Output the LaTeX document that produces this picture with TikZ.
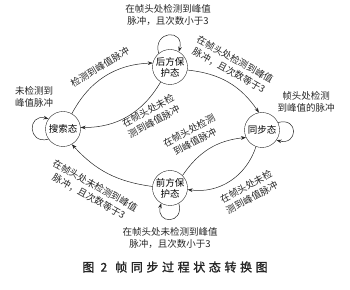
\documentclass[tikz,border=0pt]{standalone}
\usepackage{fontspec}
\usepackage{tikz}
\usetikzlibrary{arrows.meta}
\newfontfamily\cjk{Noto Sans CJK SC}
\newfontfamily\cjkcap[LetterSpace=30,FakeBold=1.2]{Noto Sans CJK SC}

\begin{document}
\begin{tikzpicture}[x=1pt,y=1pt,state/.style={draw=black!85,circle,minimum size=35pt,inner sep=0pt,align=center,font=\cjk\fontsize{9.5}{11}\selectfont},lbl/.style={align=center,inner sep=0pt,text=black!85,font=\cjk\fontsize{9.5}{12.5}\selectfont},arr/.style={-{Stealth[length=5pt,width=3.6pt]},line width=0.5pt,draw=black!85}]
\useasboundingbox (0,0) rectangle (350,289);
\node[state] (search) at (63,160) {搜索态};
\node[state] (back) at (170,222) {后方保\\护态};
\node[state] (sync) at (262,159) {同步态};
\node[state] (front) at (170,101) {前方保\\护态};
\node[lbl] (searchself) at (34,192) {未检测到\\峰值脉冲};
\node[lbl] (backself) at (168,274) {在帧头处检测到峰值\\脉冲，且次数小于3};
\node[lbl] (syncself) at (306,187) {帧头处检测\\到峰值的脉冲};
\node[lbl] (frontself) at (170,51) {在帧头处未检测到峰值\\脉冲，且次数小于3};
\node[lbl,rotate=31] (searchback) at (100,222) {检测到峰值脉冲};
\node[lbl,rotate=28] (backsearch) at (151,173) {在帧头处未检\\测到峰值脉冲};
\node[lbl,rotate=-29] (backsync) at (232,224) {在帧头处检测到峰值\\脉冲，且次数等于3};
\node[lbl,rotate=28] (syncfront) at (249,97) {在帧头处未检\\测到峰值脉冲};
\node[lbl,rotate=28] (frontsync) at (192,153) {在帧头处检测\\到峰值脉冲};
\node[lbl,rotate=-29] (frontsearch) at (92,98) {在帧头处未检测到峰值\\脉冲，且次数等于3};
\node[font=\cjkcap\fontsize{12}{14}\selectfont,text=black!85] (caption) at (175,22) {图 2\hspace{8pt}帧同步过程状态转换图};
\draw[arr](search.60) to[bend left=30] (back.167);\draw[arr](back.238) to[bend left=30] (search.5);\draw[arr](back.-10) to[bend left=25] (sync.100);\draw[arr](sync.250) to[bend left=40] (front.-5);\draw[arr](front.45) to[bend left=25] (sync.205);\draw[arr](front.175) to[bend left=20] (search.-60);
\draw[arr](search.215) to[out=195,in=165,distance=22pt] (search.145);\draw[arr](back.130) to[out=105,in=75,distance=24pt] (back.60);\draw[arr](sync.25) to[out=15,in=-15,distance=22pt] (sync.-35);\draw[arr](front.-60) to[out=-75,in=-105,distance=22pt] (front.-120);
\end{tikzpicture}
\end{document}
